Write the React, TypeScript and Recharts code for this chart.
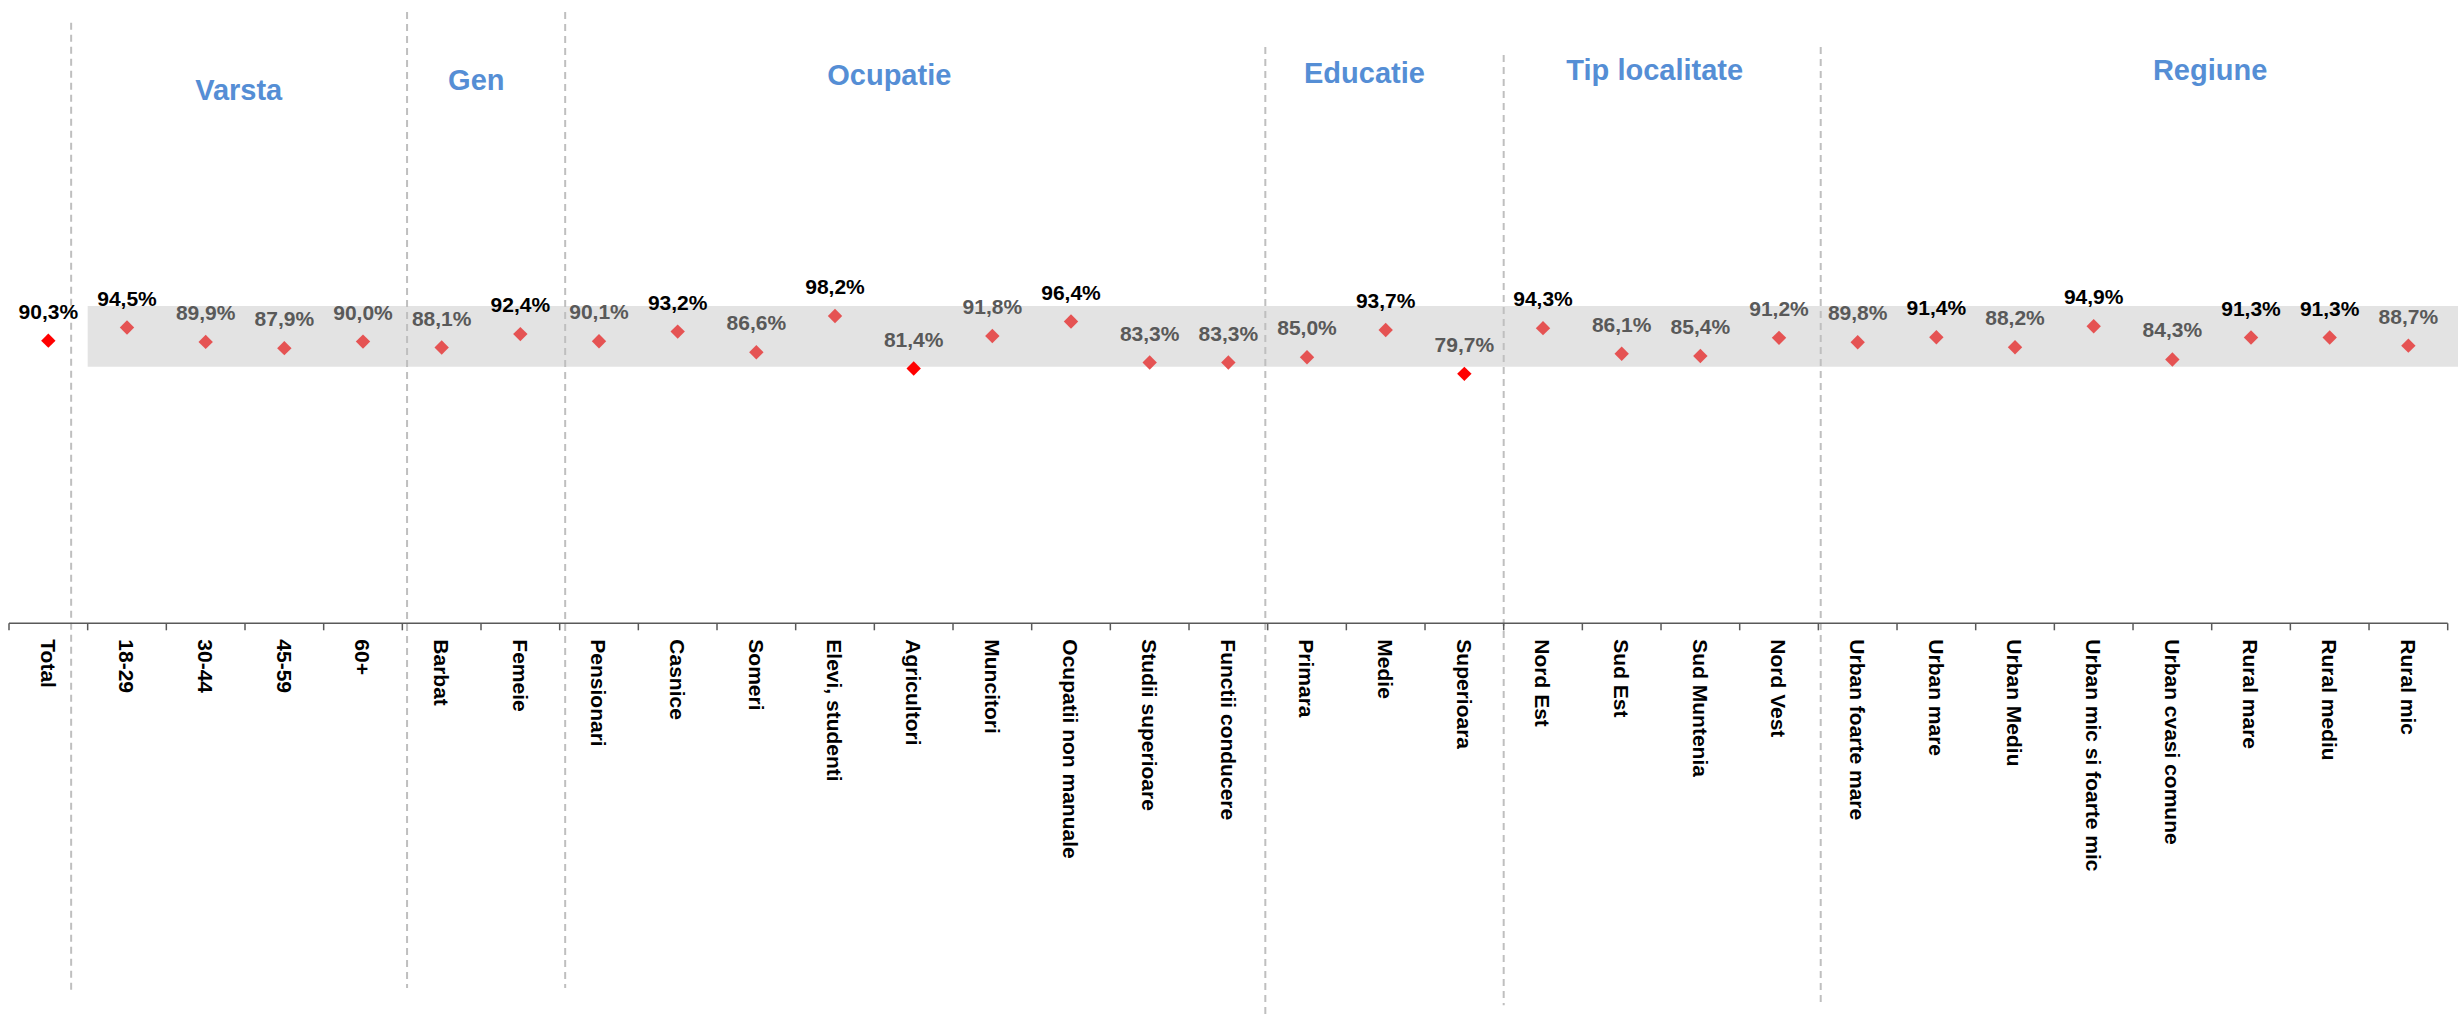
import { ScatterChart, Scatter, XAxis, YAxis, ReferenceArea, ReferenceLine, ReferenceDot } from "recharts";

const categories = [
  "Total", "18-29", "30-44", "45-59", "60+", "Barbat", "Femeie", "Pensionari", "Casnice", "Someri",
  "Elevi, studenti", "Agricultori", "Muncitori", "Ocupatii non manuale", "Studii superioare",
  "Functii conducere", "Primara", "Medie", "Superioara", "Nord Est", "Sud Est", "Sud Muntenia",
  "Nord Vest", "Urban foarte mare", "Urban mare", "Urban Mediu", "Urban mic si foarte mic",
  "Urban cvasi comune", "Rural mare", "Rural mediu", "Rural mic",
];
const values = [
  90.3, 94.5, 89.9, 87.9, 90.0, 88.1, 92.4, 90.1, 93.2, 86.6, 98.2, 81.4, 91.8, 96.4, 83.3, 83.3,
  85.0, 93.7, 79.7, 94.3, 86.1, 85.4, 91.2, 89.8, 91.4, 88.2, 94.9, 84.3, 91.3, 91.3, 88.7,
];
// t = total, + = significantly above total, - = significantly below total
const significance = [
  "t", "+", "", "", "", "", "+", "", "+", "", "+", "-", "", "+", "", "", "", "+", "-", "+", "", "",
  "", "", "+", "", "+", "", "+", "+", "",
];
const groups = ["Varsta", "Gen", "Ocupatie", "Educatie", "Tip localitate", "Regiune"];
// interval shaded behind the points (percent)
const band = [82, 101.4];

// layout (data units)
const groupPos = [
  { x: 2.42, y: 170.5 }, { x: 5.44, y: 173.7 }, { x: 10.69, y: 175.3 },
  { x: 16.73, y: 175.9 }, { x: 20.42, y: 176.9 }, { x: 27.48, y: 176.9 },
];
const dividers = [
  { x: 0.29, top: 191.9, bottom: -118.7 },
  { x: 4.56, top: 195.3, bottom: -116.5 },
  { x: 6.57, top: 195.3, bottom: -116.5 },
  { x: 15.47, top: 184.1, bottom: -125 },
  { x: 18.5, top: 181.6, bottom: -122 },
  { x: 22.53, top: 184.1, bottom: -122 },
];

const W = 2458;
const H = 1018;
const M = { top: 28.6, right: 10.3, bottom: 0, left: 9 };
const AXIS_H = 394.7;
const FONT = "'Liberation Sans', Arial, sans-serif";
const half = (W - M.left - M.right) / categories.length / 2;

const rows = categories.map((name, i) => ({ x: i, y: values[i], sig: significance[i], name }));
const boundaries = categories.map((_, i) => i - 0.5).concat(categories.length - 0.5);

const fmt = (v: number) => v.toFixed(1).replace(".", ",") + "%";

const Diamond = (p: any) => {
  const { cx, cy, payload } = p;
  const s = 7.2;
  const fill = payload.sig === "t" || payload.sig === "-" ? "#FF0000" : "#E55353";
  const color = payload.sig === "t" || payload.sig === "+" ? "#000000" : "#595959";
  return (
    <g>
      <path d={`M${cx},${cy - s}L${cx + s},${cy}L${cx},${cy + s}L${cx - s},${cy}Z`} fill={fill} />
      <text x={cx} y={cy - 22} textAnchor="middle" fontFamily={FONT} fontWeight="bold" fontSize={21} fill={color}>
        {fmt(payload.y)}
      </text>
    </g>
  );
};

const CategoryTick = (p: any) => {
  const { x, y, payload } = p;
  const idx = Math.round(payload.value + 0.5);
  if (idx >= categories.length) return <g />;
  return (
    <text
      transform={`translate(${x + half},${y + 7}) rotate(90)`}
      dy="0.36em"
      textAnchor="start"
      fontFamily={FONT}
      fontWeight="bold"
      fontSize={21}
      fill="#000"
    >
      {categories[idx]}
    </text>
  );
};

export default function App() {
  return (
    <div style={{ position: "absolute", left: 0, top: 0, width: W, height: H, background: "#fff" }}>
      <ScatterChart width={W} height={H} margin={M}>
        <XAxis
          type="number"
          dataKey="x"
          domain={[-0.5, categories.length - 0.5]}
          ticks={boundaries}
          interval={0}
          height={AXIS_H}
          axisLine={{ stroke: "#595959", strokeWidth: 1.5 }}
          tickLine={{ stroke: "#595959", strokeWidth: 1.5 }}
          tickSize={7}
          tick={<CategoryTick />}
          allowDataOverflow
        />
        <YAxis type="number" dataKey="y" domain={[0, 190]} hide />
        <ReferenceArea
          x1={0.5}
          x2={30.65}
          y1={band[0]}
          y2={band[1]}
          fill="#E3E3E3"
          fillOpacity={1}
          stroke="none"
          ifOverflow="visible"
        />
        {dividers.map((d, i) => (
          <ReferenceLine
            key={i}
            segment={[{ x: d.x, y: d.top }, { x: d.x, y: d.bottom }]}
            stroke="#BFBFBF"
            strokeWidth={2}
            strokeDasharray="7 5"
            ifOverflow="visible"
          />
        ))}
        {groups.map((g, i) => (
          <ReferenceDot
            key={g}
            x={groupPos[i].x}
            y={groupPos[i].y}
            r={1}
            fill="none"
            stroke="none"
            ifOverflow="visible"
            label={(lp: any) => {
              const vb = lp.viewBox || {};
              return (
                <text
                  x={vb.x + (vb.width || 0) / 2}
                  y={vb.y + (vb.height || 0) / 2}
                  dy="0.355em"
                  textAnchor="middle"
                  fontFamily={FONT}
                  fontWeight="bold"
                  fontSize={29}
                  fill="#558ED5"
                >
                  {g}
                </text>
              );
            }}
          />
        ))}
        <Scatter data={rows} shape={<Diamond />} isAnimationActive={false} />
      </ScatterChart>
    </div>
  );
}
